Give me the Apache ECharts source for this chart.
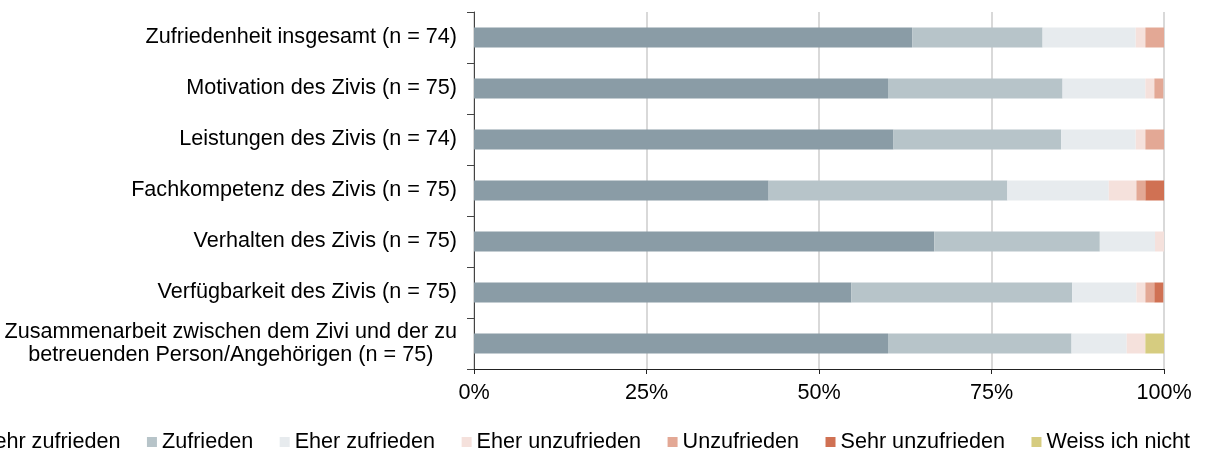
<!DOCTYPE html>
<html>
<head>
<meta charset="utf-8">
<script src="https://cdn.jsdelivr.net/npm/echarts@6/dist/echarts.min.js"></script>
<style>html,body{margin:0;padding:0;background:#fff;}#c{width:1205px;height:453px;}</style>
</head>
<body>
<div id="c"></div>
<script>
const categories = [
  'Zufriedenheit insgesamt (n = 74)',
  'Motivation des Zivis (n = 75)',
  'Leistungen des Zivis (n = 74)',
  'Fachkompetenz des Zivis (n = 75)',
  'Verhalten des Zivis (n = 75)',
  'Verfügbarkeit des Zivis (n = 75)',
  'Zusammenarbeit zwischen dem Zivi und der zu\nbetreuenden Person/Angehörigen (n = 75)'
];
const seriesNames = ['Sehr zufrieden','Zufrieden','Eher zufrieden','Eher unzufrieden','Unzufrieden','Sehr unzufrieden','Weiss ich nicht'];
const sehrZufrieden   = [63.5, 60.0, 60.8, 42.7, 66.7, 54.7, 60.0];
const zufrieden       = [18.9, 25.3, 24.3, 34.6, 24.0, 32.0, 26.6];
const eherZufrieden   = [13.5, 12.0, 10.8, 14.7, 8.0, 9.3, 8.0];
const eherUnzufrieden = [1.4, 1.3, 1.4, 4.0, 1.3, 1.3, 2.7];
const unzufrieden     = [2.7, 1.3, 2.7, 1.3, 0, 1.3, 0];
const sehrUnzufrieden = [0, 0, 0, 2.7, 0, 1.3, 0];
const weissNicht      = [0, 0, 0, 0, 0, 0, 2.7];
const xTicks = [0, 25, 50, 75, 100];

const values = [sehrZufrieden, zufrieden, eherZufrieden, eherUnzufrieden, unzufrieden, sehrUnzufrieden, weissNicht];
const colors = ['#8A9CA6','#B7C4C9','#E7EBEE','#F5E1DC','#E3A895','#D07153','#D6CC80'];
const FONT = "'Liberation Sans', Arial, sans-serif";
const FS = 21.6;

const chart = echarts.init(document.getElementById('c'));
chart.setOption({
  animation: false,
  textStyle: { fontFamily: FONT },
  grid: { left: 474, right: 41, top: 12, bottom: 84, containLabel: false },
  legend: {
    left: -40, top: 426,
    icon: 'rect', itemWidth: 10, itemHeight: 10, itemGap: 26.5,
    textStyle: { fontSize: FS, color: '#000', fontFamily: FONT },
    data: seriesNames
  },
  xAxis: {
    type: 'value', min: 0, max: 100, interval: 25,
    axisLine: { show: true, lineStyle: { color: '#222', width: 1 } },
    axisTick: { show: true, length: 5, lineStyle: { color: '#222' } },
    splitLine: { show: true, lineStyle: { color: '#D9D9D9', width: 2 } },
    axisLabel: { fontSize: FS, color: '#000', margin: 13, fontFamily: FONT,
      formatter: v => xTicks.includes(v) ? v + '%' : '' }
  },
  yAxis: {
    type: 'category', inverse: true, data: categories,
    axisLine: { show: true, lineStyle: { color: '#444', width: 1 } },
    axisTick: { show: true, length: 7, lineStyle: { color: '#444' } },
    axisLabel: {
      fontSize: FS, color: '#000', margin: 17, align: 'right', lineHeight: 23, fontFamily: FONT,
      formatter: v => v.split('\n').map(l => '{c|' + l + '}').join('\n'),
      rich: { c: { align: 'center', fontSize: FS, lineHeight: 23, fontFamily: FONT, color: '#000' } }
    }
  },
  series: seriesNames.map((n, i) => ({
    name: n, type: 'bar', stack: 'total', barWidth: 20,
    itemStyle: { color: colors[i] },
    data: values[i]
  }))
});
</script>
</body>
</html>
